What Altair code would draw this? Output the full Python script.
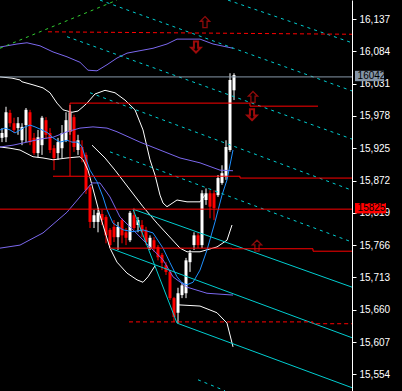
import altair as alt
import pandas as pd

# ---- candles (bar index, prices) ----
opens = [15942,15943,15983,15966,15958,15938,15963,15984,15942,15917,15930,15971,15950,15925,15917,15925,15938,15952,15976,15922,
         15927,15914,15861,15804,15804,15817,15812,15791,15796,15779,15807,15787,15774,15815,15799,15799,15791,15761,15774,15763,
         15750,15733,15722,15679,15655,15684,15687,15738,15766,15782,15766,15840,15851,15851,15848,15868,15878,15922,16020]
highs = [15958,15993,15988,15975,15976,15966,15991,15988,15950,15955,15978,15976,15958,15930,15942,15963,15984,15996,15980,15947,
         15938,15918,15865,15824,15827,15824,15815,15794,15807,15804,15810,15794,15822,15827,15812,15807,15796,15782,15779,15766,
         15753,15738,15725,15681,15696,15705,15745,15758,15787,15786,15856,15859,15856,15856,15881,15897,15938,16048,16048]
lows = [15935,15935,15960,15950,15947,15930,15935,15930,15914,15910,15914,15940,15917,15889,15906,15909,15935,15947,15919,15914,
        15902,15850,15794,15794,15787,15799,15769,15761,15771,15758,15769,15766,15771,15791,15787,15779,15766,15758,15755,15741,
        15725,15717,15676,15640,15638,15679,15679,15722,15758,15761,15761,15832,15810,15807,15845,15865,15873,15919,16004]
closes = [15950,15984,15966,15955,15966,15960,15988,15935,15917,15943,15975,15947,15922,15909,15935,15950,15971,15984,15927,15938,
          15909,15856,15804,15815,15819,15807,15782,15766,15779,15796,15782,15778,15819,15794,15807,15787,15771,15778,15761,15746,
          15737,15722,15679,15648,15687,15700,15741,15753,15782,15766,15851,15851,15829,15827,15876,15884,15927,16037,16045]

# ---- right axis ticks ----
tick_values = [15554, 15607, 15660, 15713, 15766, 15819, 15872, 15925, 15978, 16031, 16084, 16137]

# ---- indicator lines: (bar index list, price list) ----
purple_top_t = [-0.5,3.75,6.25,9.5,12.75,16.25,19.5,21.5,23.75,26.25,28.75,31.25,34.5,37.75,41.25,43.75,49.5,52.75,57.75]
purple_top_p = [16091,16096,16098,16093,16083,16075,16066,16053,16052,16062,16073,16081,16085,16089,16096,16104,16104,16096,16089]
purple_mid_t = [-0.5,2.75,6.25,9.5,12.75,16.25,19.5,22.75,26.25,28.75,34.5,39.5,44.5,49.5,54.5,57.75]
purple_mid_p = [15927,15930,15935,15940,15943,15952,15958,15960,15958,15952,15935,15922,15909,15901,15889,15888]
purple_low_t = [-0.5,4.5,10.25,16.25,20.25,22.5,24.5,27,29.5,32.75,37,40.25,42.75,46.25,51.25,57.75]
purple_low_p = [15761,15766,15786,15820,15851,15868,15868,15845,15812,15791,15763,15742,15714,15697,15687,15684]
blue_t = [-0.5,0.75,2,3.25,4.5,5.75,7,8.25,10,11.5,12.75,14.5,16.25,17.5,19,20,20.75,22,23.75,25.25,26.25,27.75,30.25,
          32.75,35.25,37.75,40.25,42,43.75,45,46.25,47.75,49.5,51.25,53.25,55,56.25,57.75]
blue_p = [15955,15958,15955,15950,15955,15960,15963,15960,15955,15950,15942,15935,15938,15935,15935,15927,15911,15889,15870,
          15845,15824,15802,15791,15788,15791,15786,15761,15737,15714,15704,15701,15705,15725,15758,15804,15848,15873,15922]
white1_t = [-0.5,2.5,4.5,5,7.75,10.25,12,13.75,15.25,17.5,19,20.25,21.25,23.25,25.75,28.25,30.75,33.25,35.25,37,38.25,
            39.5,40.25,41.25,43.75,46.25,49.5,50.75]
white1_p = [16042,16040,16037,16034,16029,16024,16016,15999,15988,15984,15986,15993,15999,16014,16020,16016,16004,15988,
            15955,15906,15881,15848,15835,15829,15840,15837,15837,15848]
white2_t = [22.5,25.75,28.25,35.25,38.75,44.5,46.25,49.5,53.75,56.25,57.5]
white2_p = [15930,15909,15889,15829,15802,15761,15755,15755,15763,15774,15799]
white3_t = [-0.5,2,4.5,7.75,10.25,12.75,16.25,19.5,20.25,21.5,24.5,27,28.75,31.25,33.75,35.25,36.5,38.25]
white3_p = [15927,15925,15922,15911,15909,15906,15909,15911,15906,15889,15815,15761,15738,15720,15709,15705,15714,15732]
white4_t = [44,49.5,53.75,56.25,57.75]
white4_p = [15668,15666,15655,15638,15599]

cyan_solid = {
    "s1": ([32.75, 87.5], [15825, 15697]),
    "s2": ([27, 87.5], [15761, 15614]),
    "s3": ([43.75, 87.5], [15638, 15532]),
    "s4": ([32.75, 43.75], [15825, 15638]),
}
cyan_dash = {
    "d1": ([56.5, 87.5], [16168, 16098]),
    "d2": ([24.5, 87.5], [16168, 16019]),
    "d3": ([16.25, 87.5], [16108, 15940]),
    "d4": ([22, 87.5], [16016, 15856]),
    "d5": ([27, 87.5], [15919, 15771]),
    "d6": ([49, 55.75], [15545, 15527]),
}
green_dash = {"g1": ([-0.5, 28.75], [16089, 16168])}
red_solid = {
    "l1": ([17, 62, 62, 79], [15999, 15999, 15994, 15994]),
    "v1": ([17, 17], [15999, 15879]),
    "l2": ([12.75, 59.5, 59.5, 87.5], [15879, 15879, 15876, 15876]),
    "l3": ([-0.5, 87.5], [15825, 15825]),
    "l4": ([27, 57.5, 57.5, 77.75, 77.75, 87.5], [15761, 15761, 15760, 15760, 15756, 15756]),
}
red_dash = {
    "r1": ([11.5, 87.5], [16116, 16112]),
    "r2": ([31.75, 77.75, 77.75, 87.5], [15640, 15640, 15637, 15637]),
}
gray_solid = {"bid": ([-0.5, 87.5], [16042, 16042])}

arrow_up_t = [50.75, 62.75, 63.75]
arrow_up_p = [16132, 16009, 15765]
arrow_dn_t = [48.5, 62.5]
arrow_dn_p = [16091, 15980]

tag_text = ["16042", "15825"]
tag_price = [16043.5, 15826.5]
tag_top = [16052, 15835]
tag_bot = [16035, 15818]
tag_fill = ["#8494a6", "#ff0000"]

# ---------------------------------------------------------------
X = alt.Scale(domain=[-0.5, 87.5], nice=False, zero=False, padding=0)
Y = alt.Scale(domain=[15526.6, 16168.2], nice=False, zero=False, padding=0)

axis_y = alt.Axis(orient="right", values=tick_values, tickSize=4, labelPadding=3, domainColor="#ffffff",
                  tickColor="#ffffff", labelColor="#ffffff", grid=False, title=None, labelFont="Liberation Sans",
                  labelFontSize=10, domainWidth=1, tickWidth=1, labelOverlap=False, labelBaseline="middle",
                  zindex=0)

cd = pd.DataFrame({"t": list(range(len(opens))), "o": opens, "h": highs, "l": lows, "c": closes})
cd["dir"] = ["up" if c >= o else "dn" for o, c in zip(opens, closes)]
ccol = alt.Color("dir:N", scale=alt.Scale(domain=["up", "dn"], range=["#ffffff", "#ff0000"]), legend=None)


def xq(f):
    return alt.X(f, scale=X, axis=None)


def yq(f):
    return alt.Y(f, scale=Y, axis=axis_y)


wicks = alt.Chart(cd).mark_rule(strokeWidth=1).encode(x=xq("t:Q"), y=yq("l:Q"), y2="h:Q", color=ccol)
bodies = alt.Chart(cd).mark_bar(size=3).encode(x=xq("t:Q"), y=yq("o:Q"), y2="c:Q", color=ccol)


def lines_df(d):
    rows = []
    for k, (ts, ps) in d.items():
        for j, (t, p) in enumerate(zip(ts, ps)):
            rows.append({"id": k, "k": j, "t": t, "p": p})
    return pd.DataFrame(rows)


def line_layer(d, color, width=1.0, dash=None):
    kw = dict(color=color, strokeWidth=width)
    if dash:
        kw["strokeDash"] = dash
    return alt.Chart(lines_df(d)).mark_line(**kw).encode(
        x=xq("t:Q"), y=yq("p:Q"), detail="id:N", order="k:Q")


layers = [
    wicks, bodies,
    line_layer({"w1": (white1_t, white1_p), "w2": (white2_t, white2_p),
                "w3": (white3_t, white3_p), "w4": (white4_t, white4_p)}, "#ffffff"),
    line_layer({"pt": (purple_top_t, purple_top_p), "pm": (purple_mid_t, purple_mid_p),
                "pl": (purple_low_t, purple_low_p)}, "#7b68ee"),
    line_layer({"b": (blue_t, blue_p)}, "#1e90ff"),
    line_layer(cyan_solid, "#00ced1"),
    line_layer(cyan_dash, "#00ced1", 1.0, [3, 4]),
    line_layer(green_dash, "#32cd32", 1.0, [3, 4]),
    line_layer(gray_solid, "#8899aa"),
    line_layer(red_solid, "#ff0000"),
    line_layer(red_dash, "#ff0000", 1.0, [4, 3]),
]

up_path = "M0,-1 L0.85,-0.15 L0.38,-0.15 L0.38,1 L-0.38,1 L-0.38,-0.15 L-0.85,-0.15 Z"
dn_path = "M0,1 L0.85,0.15 L0.38,0.15 L0.38,-1 L-0.38,-1 L-0.38,0.15 L-0.85,0.15 Z"
au = pd.DataFrame({"t": arrow_up_t, "p": arrow_up_p})
ad = pd.DataFrame({"t": arrow_dn_t, "p": arrow_dn_p})
layers.append(alt.Chart(au).mark_point(shape=up_path, size=121, filled=False, stroke="#c81010", strokeWidth=1.3).encode(
    x=xq("t:Q"), y=yq("p:Q")))
layers.append(alt.Chart(ad).mark_point(shape=dn_path, size=121, filled=False, stroke="#e01010", strokeWidth=2).encode(
    x=xq("t:Q"), y=yq("p:Q")))

tags = pd.DataFrame({"txt": tag_text, "p": tag_price, "top": tag_top, "bot": tag_bot, "fill": tag_fill,
                     "x0": [88.25, 88.25], "x1": [95.5, 96.0], "xt": [88.9, 88.9]})
layers.append(alt.Chart(tags).mark_rect().encode(
    x=xq("x0:Q"), x2="x1:Q", y=yq("top:Q"), y2="bot:Q",
    color=alt.Color("fill:N", scale=None, legend=None)))
layers.append(alt.Chart(tags).mark_text(align="left", baseline="middle", font="Liberation Sans", fontSize=10,
                                        color="#000000").encode(
    x=xq("xt:Q"), y=yq("p:Q"), text="txt:N"))

chart = alt.layer(*layers).properties(
    width=352, height=391, background="#000000",
    padding={"left": 0, "top": 0, "right": 50, "bottom": 0},
    autosize=alt.AutoSizeParams(type="none"),
).configure_view(stroke=None)

chart.save("out.html", embed_options={"renderer": "svg", "actions": False})
